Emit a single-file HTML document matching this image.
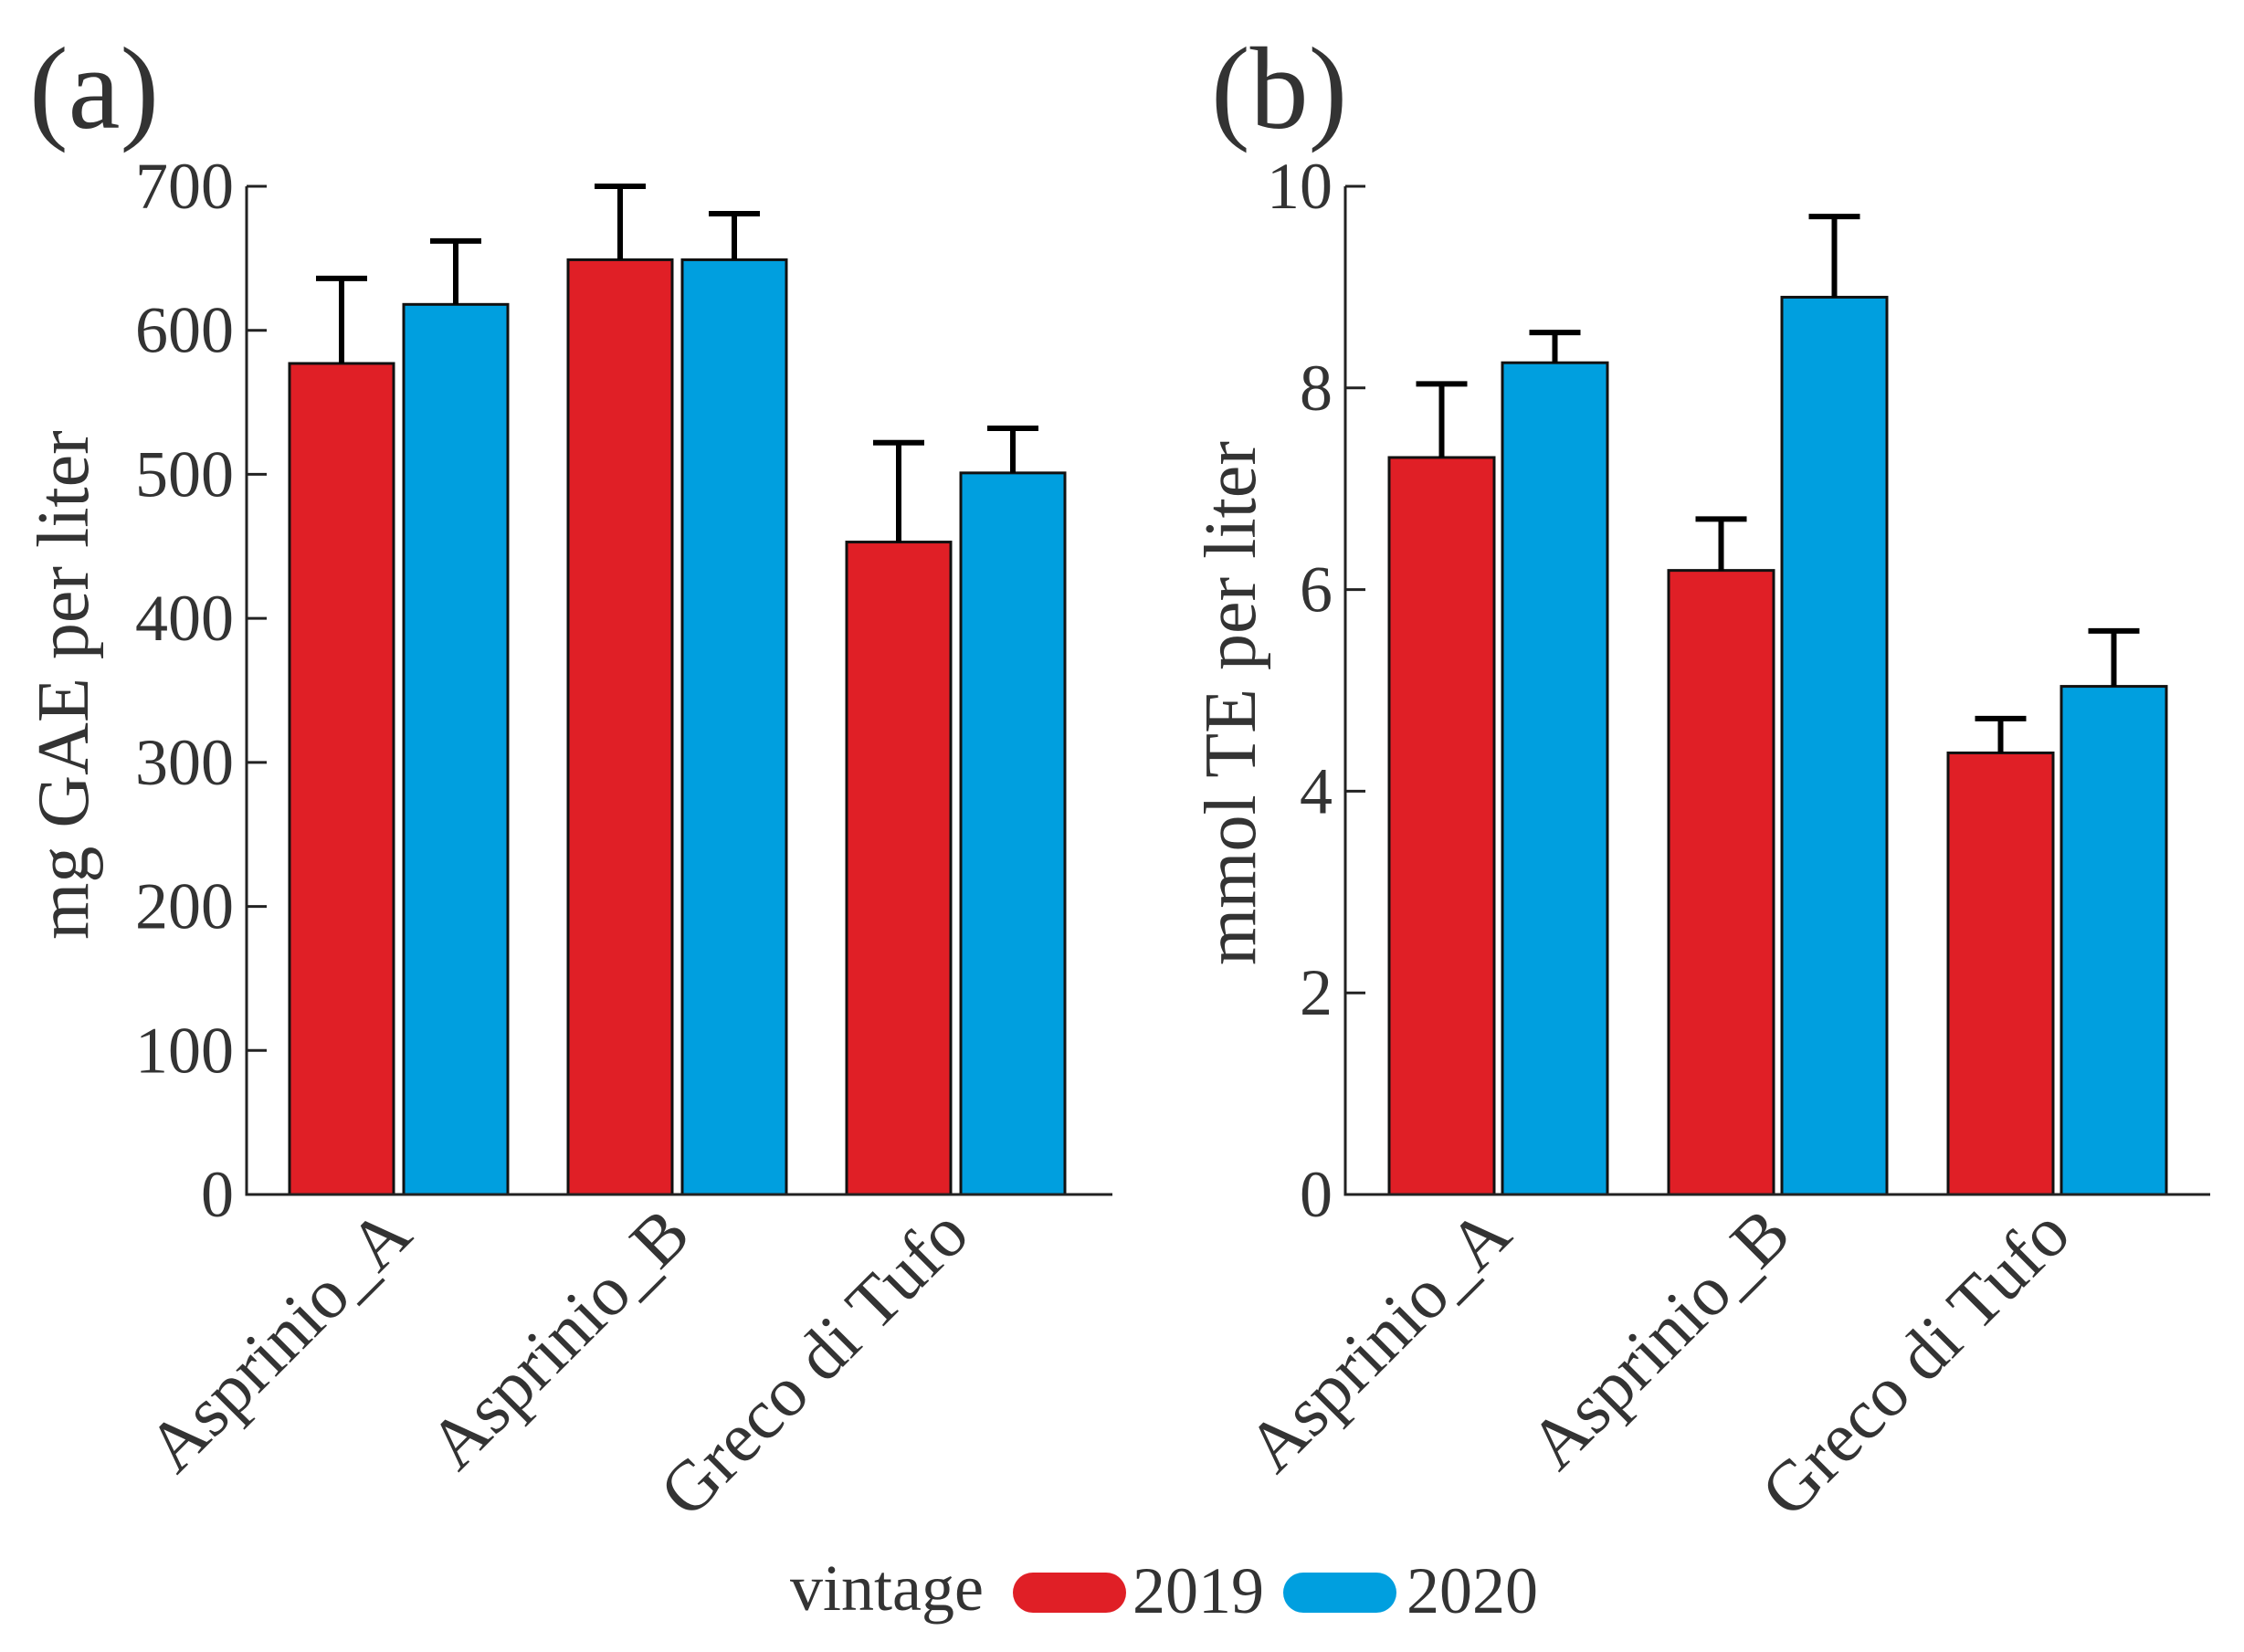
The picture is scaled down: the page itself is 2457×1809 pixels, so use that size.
<!DOCTYPE html>
<html><head><meta charset="utf-8">
<style>
html,body{margin:0;padding:0;background:#fff;}
svg{display:block;font-family:"Liberation Serif",serif;}
</style></head>
<body>
<svg id="chart" width="2457" height="1809" viewBox="0 0 2457 1809" xmlns="http://www.w3.org/2000/svg">
<g id="root"></g>
</svg>
<script>
const categories = ["Asprinio_A","Asprinio_B","Greco di Tufo"];
const seriesNames = ["2019","2020"];
const gaeMean2019 = [577, 649, 453];
const gaeErr2019 = [59, 51, 69];
const gaeMean2020 = [618, 649, 501];
const gaeErr2020 = [44, 32, 31];
const teMean2019 = [7.31, 6.19, 4.38];
const teErr2019 = [0.73, 0.51, 0.34];
const teMean2020 = [8.25, 8.90, 5.04];
const teErr2020 = [0.30, 0.80, 0.55];
const gaeTicks = [0,100,200,300,400,500,600,700];
const teTicks = [0,2,4,6,8,10];

const NS="http://www.w3.org/2000/svg";
const root=document.getElementById('root');
function mk(tag, attrs, parent){const e=document.createElementNS(NS,tag);for(const k in attrs)e.setAttribute(k,attrs[k]);(parent||root).appendChild(e);return e;}
const colors=["#e01f26","#009fdf"];

function panel(cfg){
  const g=mk('g',{});
  
  
  const y=v=>cfg.y0-(v-0)/(cfg.max)*(cfg.y0-cfg.yTop);
  const lt=mk('text',{x:cfg.letterX,y:140,'font-size':128,fill:'#333'},g);
  lt.textContent=cfg.letter;
  
  
  const means=[cfg.m1,cfg.m2], errs=[cfg.e1,cfg.e2];
  for(let i=0;i<categories.length;i++){
    for(let s=0;s<2;s++){
      const x=cfg.x0+i*cfg.groupStep+s*cfg.barStep;
      const top=y(means[s][i]);
      const r=mk('rect',{x:x,y:top,width:cfg.barW,height:cfg.y0-top,fill:colors[s],stroke:'#111','stroke-width':3},g);
      
      
      const cx=x+cfg.barW/2, et=y(means[s][i]+errs[s][i]);
      const eb=mk('path',{d:`M${cx},${top} V${et} M${cx-28},${et} H${cx+28}`,stroke:'#000','stroke-width':6,fill:'none'},g);
      
      
    }
    const lx=cfg.x0+i*cfg.groupStep+cfg.barStep+cfg.barW/2-cfg.barStep/2-22;
    const ly=cfg.y0+8;
    const t=mk('text',{x:lx,y:ly,'font-size':78,fill:'#333','text-anchor':'end',transform:`rotate(-45 ${lx} ${ly})`,'dominant-baseline':'hanging'},g);
    t.textContent=categories[i];
    
    
  }
  const ax=mk('path',{d:`M${cfg.axX},${cfg.yTop} V${cfg.y0} H${cfg.axEnd}`,stroke:'#222','stroke-width':3,fill:'none'},g);
  
  
  cfg.ticks.forEach(v=>{
    const ty=y(v);
    const tk=mk('line',{x1:cfg.axX,x2:cfg.axX+22,y1:ty,y2:ty,stroke:'#222','stroke-width':3},g);
    
    
    const tl=mk('text',{x:cfg.axX-14,y:ty+24,'font-size':72,fill:'#333','text-anchor':'end'},g);
    tl.textContent=v;
    
    
  });
  const yt=mk('text',{x:cfg.titleX,y:cfg.titleY,'font-size':80,fill:'#333','text-anchor':'middle',transform:`rotate(-90 ${cfg.titleX} ${cfg.titleY})`},g);
  yt.textContent=cfg.title;
  
  
}
panel({name:'panel-a',letter:'(a)',letterX:32,m1:gaeMean2019,m2:gaeMean2020,e1:gaeErr2019,e2:gaeErr2020,max:700,ticks:gaeTicks,
  y0:1308,yTop:204,x0:317,groupStep:305,barStep:125,barW:114,axX:270,axEnd:1218,title:'mg GAE per liter',titleX:96,titleY:750});
panel({name:'panel-b',letter:'(b)',letterX:1326,m1:teMean2019,m2:teMean2020,e1:teErr2019,e2:teErr2020,max:10,ticks:teTicks,
  y0:1308,yTop:204,x0:1521,groupStep:306,barStep:124,barW:115,axX:1473,axEnd:2420,title:'mmol TE per liter',titleX:1374,titleY:770});

const lg=mk('g',{});


const vt=mk('text',{x:865,y:1763,'font-size':72,fill:'#333'},lg);
vt.textContent='vintage';


const pillX=[1109,1405], labX=[1240,1540];
seriesNames.forEach((n,i)=>{
  const p=mk('rect',{x:pillX[i],y:1722,width:124,height:44,rx:22,fill:colors[i]},lg);
  
  
  const t=mk('text',{x:labX[i],y:1766,'font-size':72,fill:'#333'},lg);
  t.textContent=n;
  
  
});
</script>
</body></html>
